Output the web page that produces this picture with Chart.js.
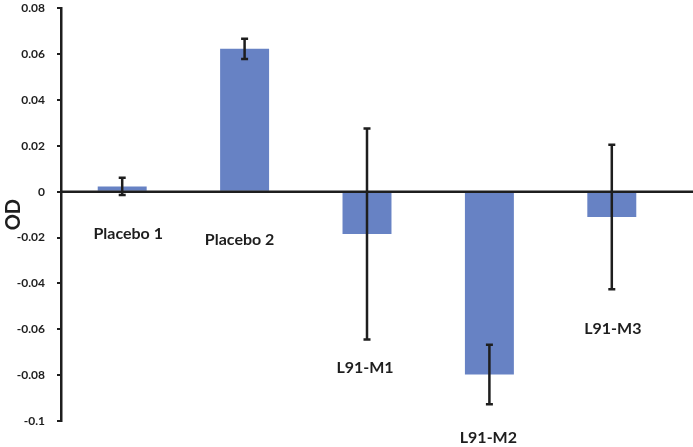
<!DOCTYPE html>
<html>
<head>
<meta charset="utf-8">
<script src="https://cdn.jsdelivr.net/npm/chart.js@4.4.1/dist/chart.umd.min.js"></script>
<style>
    html, body { margin: 0; padding: 0; background: #fff; overflow: hidden; }
    #frame { width: 693px; height: 447px; position: relative; overflow: hidden; }
    #wrap { width: 693px; height: 458px; position: absolute; left: 0; top: -11px; }
</style>
</head>
<body>
<div id="frame"><div id="wrap"><canvas id="chart"></canvas></div></div>
<script>
// Data
const groups = ['Placebo 1', 'Placebo 2', 'L91-M1', 'L91-M2', 'L91-M3'];
const odMean = [0.0023, 0.0623, -0.0185, -0.0797, -0.0110];
const odError = [0.0038, 0.0044, 0.0460, 0.0130, 0.0315];

// Label nudges (px) relative to the lower end of each bar/error bar
const labelNudge = [[6, 39], [-5, 48], [-2, 28], [-1, 34], [1, 40]];

const ink = '#1e1e1e';
const fontFamily = 'Lato, "Open Sans", sans-serif';

// Error bars, zero line and category labels
const overlayPlugin = {
    id: 'overlay',
    afterDatasetsDraw(chart) {
        const ctx = chart.ctx;
        const y = chart.scales.y;
        const area = chart.chartArea;
        const bars = chart.getDatasetMeta(0).data;

        // zero line runs to the edge of the canvas
        const y0 = y.getPixelForValue(0);
        ctx.save();
        ctx.strokeStyle = ink;
        ctx.lineWidth = 2.5;
        ctx.beginPath();
        ctx.moveTo(area.left, y0);
        ctx.lineTo(chart.width, y0);
        ctx.stroke();

        // error bars
        ctx.lineWidth = 2.5;
        bars.forEach((bar, i) => {
            const yt = y.getPixelForValue(odMean[i] + odError[i]);
            const yb = y.getPixelForValue(odMean[i] - odError[i]);
            ctx.beginPath();
            ctx.moveTo(bar.x, yt);
            ctx.lineTo(bar.x, yb);
            ctx.moveTo(bar.x - 3.5, yt);
            ctx.lineTo(bar.x + 3.5, yt);
            ctx.moveTo(bar.x - 3.5, yb);
            ctx.lineTo(bar.x + 3.5, yb);
            ctx.stroke();
        });

        // category labels
        ctx.fillStyle = ink;
        ctx.font = 'bold 16px ' + fontFamily;
        ctx.textAlign = 'center';
        ctx.textBaseline = 'middle';
        bars.forEach((bar, i) => {
            const low = Math.min(0, odMean[i] - odError[i]);
            const ly = y.getPixelForValue(low) + labelNudge[i][1];
            ctx.fillText(groups[i], bar.x + labelNudge[i][0], ly);
        });
        ctx.restore();
    }
};

const ctx = document.getElementById('chart').getContext('2d');
new Chart(ctx, {
    type: 'bar',
    data: {
        labels: groups,
        datasets: [{
            label: 'OD',
            data: odMean,
            backgroundColor: '#6782c4',
            borderWidth: 0,
            barPercentage: 0.4,
            categoryPercentage: 1
        }]
    },
    options: {
        responsive: true,
        maintainAspectRatio: false,
        animation: false,
        layout: {
            autoPadding: false,
            padding: { top: 8, right: 20, bottom: 26, left: 0 }
        },
        plugins: {
            legend: { display: false },
            tooltip: { enabled: false }
        },
        scales: {
            x: {
                display: false
            },
            y: {
                min: -0.1,
                max: 0.08,
                afterFit(scale) { scale.width = 61; },
                border: { display: true, color: ink, width: 2.5 },
                grid: {
                    display: true,
                    drawOnChartArea: false,
                    drawTicks: true,
                    tickLength: 4,
                    color: ink,
                    lineWidth: 2
                },
                ticks: {
                    stepSize: 0.02,
                    color: ink,
                    padding: 12,
                    font: { family: fontFamily, size: 12, weight: 'bold' },
                    callback: v => String(+v.toFixed(2))
                },
                title: {
                    display: true,
                    text: 'OD',
                    color: ink,
                    padding: { top: 2, bottom: 0 },
                    font: { family: fontFamily, size: 20, weight: 'bold' }
                }
            }
        }
    },
    plugins: [overlayPlugin]
});
</script>
</body>
</html>
